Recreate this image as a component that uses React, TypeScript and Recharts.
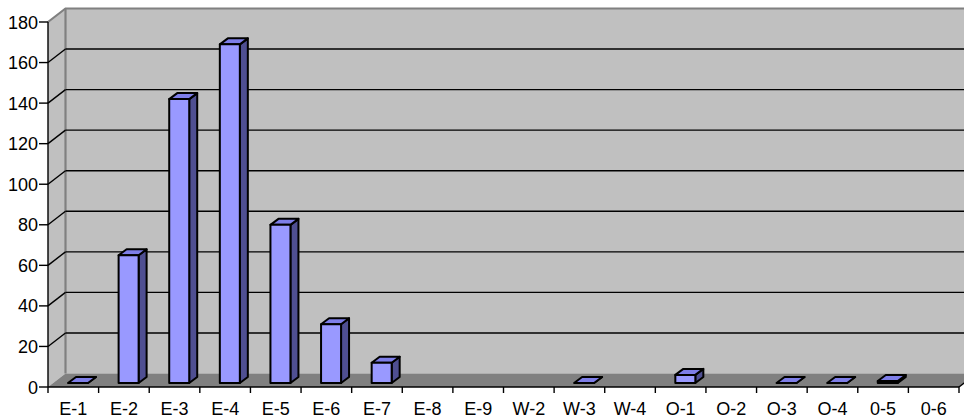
import React from 'react';
import {BarChart, Bar, XAxis, YAxis, CartesianGrid} from 'recharts';

// counts per grade, empty grades are null (nothing drawn)
const categories = ['E-1', 'E-2', 'E-3', 'E-4', 'E-5', 'E-6', 'E-7', 'E-8', 'E-9', 'W-2', 'W-3', 'W-4', 'O-1', 'O-2', 'O-3', 'O-4', '0-5', '0-6'];
const counts = [0, 63, 140, 167, 78, 29, 10, null, null, null, 0, null, 4, null, 0, 0, 1, null];
const yTicks = [0, 20, 40, 60, 80, 100, 120, 140, 160, 180];

const data = categories.map((cat, i) => ({cat, count: counts[i]}));

const W = 964;
const H = 419;
const LEFT = 48;
const RIGHT = 959;
const TOP = 22;
const BOTTOM = 387;
const DX = 17.5; // depth of the floor / walls
const DY = -13.5;
const BAND = (RIGHT - LEFT) / categories.length;
const FONT = '"Liberation Sans", Arial, sans-serif';

const gridTicks = yTicks.filter((v) => v > 0 && v < 180);

function Bar3D(props: any) {
  const {x, y, width, height, payload} = props;
  if (!payload || payload.count == null) return null;
  const fx = x + 5;
  const fy = y - 4;
  const h = Math.max(height || 0, 0);
  const ox = 8;
  const oy = -6;
  const common = {stroke: '#000', strokeWidth: 2, strokeLinejoin: 'round' as const};
  return (
    <g>
      <polygon
        points={`${fx + width},${fy} ${fx + width + ox},${fy + oy} ${fx + width + ox},${fy + h + oy} ${fx + width},${fy + h}`}
        fill="#4F4F92"
        {...common}
      />
      <polygon
        points={`${fx},${fy} ${fx + ox},${fy + oy} ${fx + width + ox},${fy + oy} ${fx + width},${fy}`}
        fill="#7E7EE8"
        {...common}
      />
      {h > 0 && <rect x={fx} y={fy} width={width} height={h} fill="#9999FF" {...common} />}
    </g>
  );
}

function YTick(props: any) {
  const {y, payload} = props;
  const v = payload.value;
  return (
    <g>
      <line x1={39} y1={y} x2={LEFT} y2={y} stroke="#000" strokeWidth={1.4} />
      {v > 0 && v < 180 && (
        <line x1={LEFT} y1={y} x2={LEFT + DX} y2={y + DY} stroke="#000" strokeWidth={1.4} />
      )}
      <text x={38} y={y} dy={6.5} textAnchor="end" fontSize={18} fontFamily={FONT} fill="#000">
        {v}
      </text>
    </g>
  );
}

function XTick(props: any) {
  const {x, payload, index} = props;
  const left = x - BAND / 2;
  return (
    <g>
      <line x1={left} y1={BOTTOM} x2={left} y2={BOTTOM + 6} stroke="#000" strokeWidth={1.4} />
      {index === categories.length - 1 && (
        <line x1={left + BAND} y1={BOTTOM} x2={left + BAND} y2={BOTTOM + 6} stroke="#000" strokeWidth={1.4} />
      )}
      <text x={x} y={415} textAnchor="middle" fontSize={18} fontFamily={FONT} fill="#000">
        {payload.value}
      </text>
    </g>
  );
}

function Walls() {
  const backLeft = LEFT + DX;
  const backTop = TOP + DY;
  const backBottom = BOTTOM + DY;
  return (
    <svg width={W} height={H} style={{position: 'absolute', left: 0, top: 0}}>
      <polygon
        points={`${LEFT},${TOP} ${backLeft},${backTop} ${backLeft},${backBottom} ${LEFT},${BOTTOM}`}
        fill="#C0C0C0"
      />
      <rect x={backLeft} y={backTop} width={W - backLeft} height={backBottom - backTop} fill="#C0C0C0" />
      <polygon
        points={`${LEFT},${BOTTOM} ${RIGHT},${BOTTOM} ${RIGHT + DX},${backBottom} ${backLeft},${backBottom}`}
        fill="#808080"
      />
      <polyline
        points={`${LEFT},${TOP} ${backLeft},${backTop} ${W},${backTop}`}
        fill="none"
        stroke="#808080"
        strokeWidth={2.2}
      />
      <line x1={backLeft} y1={backTop} x2={backLeft} y2={backBottom} stroke="#808080" strokeWidth={2.2} />
      <line x1={RIGHT} y1={BOTTOM} x2={RIGHT + DX} y2={backBottom} stroke="#000" strokeWidth={1.4} />
    </svg>
  );
}

export default function App() {
  return (
    <div style={{position: 'absolute', left: 0, top: 0, width: W, height: H, background: '#fff'}}>
      <Walls />
      <div style={{position: 'absolute', left: 0, top: 0}}>
        <BarChart
          width={W}
          height={H}
          data={data}
          margin={{top: TOP, right: W - RIGHT, left: 0, bottom: 0}}
          barSize={20}
        >
          <CartesianGrid
            vertical={false}
            stroke="#000"
            strokeWidth={1.4}
            x={LEFT + DX}
            y={TOP + DY}
            width={W - LEFT - DX}
            height={BOTTOM - TOP}
            horizontalCoordinatesGenerator={({yAxis}: any) =>
              gridTicks.map((v) =>
                (yAxis && typeof yAxis.scale === 'function'
                  ? yAxis.scale(v)
                  : BOTTOM - ((BOTTOM - TOP) * v) / 180) + DY,
              )
            }
          />
          <XAxis
            dataKey="cat"
            interval={0}
            height={H - BOTTOM}
            axisLine={{stroke: '#000', strokeWidth: 1.4}}
            tickLine={false}
            tick={<XTick />}
          />
          <YAxis
            width={LEFT}
            domain={[0, 180]}
            ticks={yTicks}
            axisLine={{stroke: '#000', strokeWidth: 1.4}}
            tickLine={false}
            tick={<YTick />}
          />
          <Bar dataKey="count" shape={<Bar3D />} isAnimationActive={false} />
        </BarChart>
      </div>
    </div>
  );
}
